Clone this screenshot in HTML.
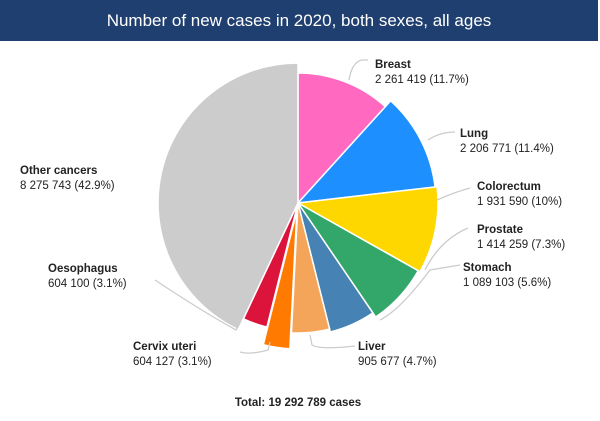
<!DOCTYPE html>
<html><head><meta charset="utf-8"><style>
body{margin:0;width:600px;height:421px;background:#fff;overflow:hidden;font-family:"Liberation Sans",sans-serif}
#hdr{position:absolute;left:0;top:0;width:598px;height:41px;background:#1e3f6f;color:#fff;font-size:17px;text-align:center;line-height:41px}
svg{position:absolute;left:0;top:0}
text{font-family:"Liberation Sans",sans-serif;font-size:11.5px;fill:#222}
.b{font-weight:bold}
</style></head><body>
<div id="hdr">Number of new cases in 2020, both sexes, all ages</div>
<svg width="600" height="421" id="s">
<g id="pie"></g>
<g fill="none" stroke="#ccc" stroke-width="1.3">
<path d="M349,80 Q352,62 362,60 L368,60"/>
<path d="M428,140 Q440,132 455,132"/>
<path d="M437,200 Q455,192 470,188"/>
<path d="M425,270 Q440,240 468,228"/>
<path d="M380,320 Q400,310 430,270 L460,265"/>
<path d="M310,335 L312,345 Q320,350 355,346"/>
<path d="M270,342 L268,350 Q250,355 240,352"/>
<path d="M240,323 L236,330 Q200,310 155,280"/>
</g>
<text x="375" y="68" class="b">Breast</text><text x="375" y="83">2 261 419 (11.7%)</text>
<text x="460" y="137" class="b">Lung</text><text x="460" y="152">2 206 771 (11.4%)</text>
<text x="477" y="190" class="b">Colorectum</text><text x="477" y="205">1 931 590 (10%)</text>
<text x="477" y="233" class="b">Prostate</text><text x="477" y="248">1 414 259 (7.3%)</text>
<text x="463" y="271" class="b">Stomach</text><text x="463" y="286">1 089 103 (5.6%)</text>
<text x="358" y="350" class="b">Liver</text><text x="358" y="365">905 677 (4.7%)</text>
<text x="133" y="350" class="b">Cervix uteri</text><text x="133" y="365">604 127 (3.1%)</text>
<text x="48" y="272" class="b">Oesophagus</text><text x="48" y="287">604 100 (3.1%)</text>
<text x="20" y="174" class="b">Other cancers</text><text x="20" y="189">8 275 743 (42.9%)</text>
<text x="298" y="406" class="b" text-anchor="middle">Total: 19 292 789 cases</text>
</svg>
<script>
var d=[[11.7,130,"#ff69c0"],[11.4,138,"#1e8fff"],[10,140,"#ffd700"],[7.3,138,"#33a66a"],[5.6,133,"#4682b4"],[4.7,130,"#f4a55a"],[3.1,138,"#ff7a00",8],[3.1,128,"#dc143c"],[42.9,140,"#cccccc"]];
var tot=0;d.forEach(function(e){tot+=e[0]});
var cx=298,cy=203,a=0,h="";
d.forEach(function(e){
 var a1=a+e[0]/tot*2*Math.PI,r=e[1],off=e[3]||0,m=(a+a1)/2;
 var ox=cx+off*Math.sin(m),oy=cy-off*Math.cos(m);
 var x0=ox+r*Math.sin(a),y0=oy-r*Math.cos(a),x1=ox+r*Math.sin(a1),y1=oy-r*Math.cos(a1);
 h+='<path d="M'+ox+','+oy+' L'+x0+','+y0+' A'+r+','+r+' 0 '+((a1-a)>Math.PI?1:0)+' 1 '+x1+','+y1+' Z" fill="'+e[2]+'" stroke="#fff" stroke-width="1.5"/>';
 a=a1;});
document.getElementById("pie").innerHTML=h;
</script>
</body></html>
